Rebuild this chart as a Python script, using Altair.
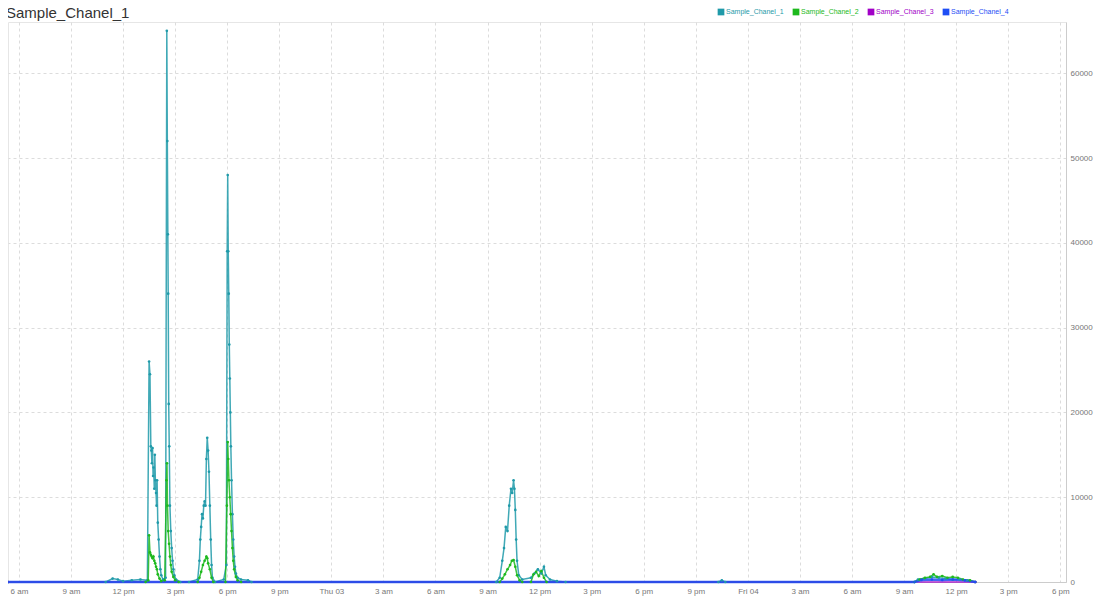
import altair as alt
import pandas as pd

# hours from Wed 00:00
ch1_h = [5.35, 11.0, 11.4, 11.7, 12.0, 12.5, 13.0, 13.4,
         13.5, 13.55, 13.6, 13.63, 13.66, 13.7, 13.73, 13.76, 13.8, 13.83, 13.86, 13.9, 13.93, 13.96,
         14.0, 14.05, 14.1, 14.15, 14.2, 14.3, 14.45,
         14.52, 14.55, 14.58, 14.6, 14.63, 14.66, 14.7, 14.75, 14.8, 14.85, 14.9, 14.95, 15.05, 15.3, 15.8,
         16.3, 16.4, 16.45, 16.5, 16.55, 16.6, 16.65, 16.7, 16.75, 16.8, 16.85, 16.9, 16.95, 17.0, 17.05,
         17.1, 17.15, 17.3, 17.8,
         17.95, 18.0, 18.03, 18.06, 18.09, 18.12, 18.15, 18.18, 18.21, 18.25, 18.3, 18.35, 18.4, 18.45,
         18.5, 18.6, 18.8, 19.2, 19.4, 33.5, 33.7, 33.85, 33.95, 34.05, 34.15, 34.25, 34.35, 34.42, 34.5,
         34.55, 34.6, 34.65, 34.7, 34.8, 35.0, 35.5, 35.7, 35.9, 36.1, 36.25, 36.35, 36.6, 37.0, 37.5,
         46.3, 46.5, 46.7, 57.6, 57.8, 58.2, 58.6, 59.0, 59.4, 59.8, 60.2, 60.6, 61.1]
ch1_v = [0, 0, 400, 300, 100, 200, 300, 200,
         26000, 24500, 16000, 15500, 14000, 15800, 12500, 13500, 11000, 15000, 12000, 10500, 9000, 12000,
         7000, 5000, 3000, 1500, 800, 300, 500,
         65000, 52000, 41000, 34000, 21000, 16000, 9000, 6000, 4000, 2500, 1500, 800, 300, 0, 0,
         300, 2500, 5000, 6500, 8000, 7500, 9000, 9500, 9000, 14500, 17000, 15500, 13000, 9000, 5000,
         2000, 500, 0, 300,
         2000, 39000, 48000, 39000, 34000, 28000, 24000, 20000, 16000, 12000, 8000, 5000, 3000, 1800,
         1000, 500, 300, 200, 0, 0, 500, 2500, 4000, 6500, 6000, 9000, 11000, 10500, 12000,
         11000, 8500, 5000, 2500, 800, 300, 500, 1000, 1500, 1000, 1800, 800, 300, 100, 0,
         0, 200, 0, 0, 300, 400, 600, 500, 400, 300, 300, 200, 0]

ch2_h = [5.35, 13.3, 13.45, 13.5, 13.55, 13.6, 13.65, 13.7, 13.75, 13.8, 13.85, 13.9, 13.95, 14.0,
         14.1, 14.2, 14.4, 14.5, 14.53, 14.56, 14.6, 14.65, 14.7, 14.75, 14.8, 14.9, 15.0, 15.2,
         16.3, 16.4, 16.5, 16.6, 16.7, 16.8, 16.85, 16.9, 17.0, 17.1, 17.2,
         17.9, 17.98, 18.03, 18.06, 18.1, 18.15, 18.2, 18.25, 18.3, 18.35, 18.4, 18.5, 18.6, 18.8,
         33.7, 33.85, 34.0, 34.15, 34.3, 34.4, 34.5, 34.6, 34.7, 34.85, 35.0,
         35.5, 35.65, 35.8, 35.95, 36.1, 36.25, 36.4,
         57.6, 57.9, 58.2, 58.5, 58.7, 58.9, 59.2, 59.5, 59.8, 60.1, 60.4, 60.8, 61.1]
ch2_v = [0, 0, 200, 5500, 3500, 3200, 3000, 2800, 3000, 2500, 2200, 1800, 1500, 900,
         400, 100, 200, 12000, 14000, 9000, 6000, 4500, 3000, 2000, 1200, 600, 200, 0,
         0, 500, 1200, 2000, 2500, 3000, 2800, 2200, 1500, 500, 0,
         0, 9000, 16500, 14500, 12000, 10000, 8000, 6000, 4000, 2500, 1500, 600, 200, 0,
         0, 400, 900, 1500, 2000, 2500, 2600, 1800, 800, 200, 0,
         0, 900, 1200, 700, 1300, 500, 0,
         0, 300, 500, 600, 900, 600, 700, 500, 600, 500, 300, 200, 0]

ch3_h = [5.35, 61.1]
ch3_v = [0, 0]

ch4_h = [5.35, 57.6, 58.0, 58.6, 59.2, 59.8, 60.5, 61.1]
ch4_v = [0, 0, 250, 300, 250, 300, 200, 0]

# x tick positions (hours from Wed 00:00), every 3 h
tick_hours = [6, 9, 12, 15, 18, 21, 24, 27, 30, 33, 36, 39, 42, 45, 48, 51, 54, 57, 60, 63, 66]

series_names = ["Sample_Chanel_1", "Sample_Chanel_2", "Sample_Chanel_3", "Sample_Chanel_4"]
series_colors = ["#1f9aa9", "#1db91d", "#a100c7", "#1e4ef5"]
chart_title = "Sample_Chanel_1"

base = pd.Timestamp("2021-06-02 00:00:00")


def to_ms(h):
    # epoch milliseconds of the wall-clock time (read back as UTC in the axis labels)
    t = base + pd.to_timedelta(h, unit="h")
    return int((t - pd.Timestamp("1970-01-01")) / pd.Timedelta(milliseconds=1))


frames = []
for name, hs, vs in zip(series_names, [ch1_h, ch2_h, ch3_h, ch4_h], [ch1_v, ch2_v, ch3_v, ch4_v]):
    frames.append(pd.DataFrame({
        "time": [to_ms(h) for h in hs],
        "value": vs,
        "series": name,
    }))
df = pd.concat(frames, ignore_index=True)

legend_df = pd.DataFrame({"series": series_names, "idx": list(range(len(series_names)))})
title_df = pd.DataFrame({"title": [chart_title]})

x_domain = [to_ms(5.37), to_ms(66.33)]
x_ticks = [to_ms(h) for h in tick_hours]

font = "Liberation Sans"
color_scale = alt.Scale(domain=series_names, range=series_colors)

label_expr = (
    "utchours(datum.value) == 0 ? utcFormat(datum.value, '%a %d') : "
    "((utchours(datum.value) % 12 == 0 ? 12 : utchours(datum.value) % 12) + "
    "(utchours(datum.value) < 12 ? ' am' : ' pm'))"
)

lines = alt.Chart(df).mark_line(
    point=alt.OverlayMarkDef(filled=True, size=7),
    opacity=0.85,
).encode(
    x=alt.X("time:Q",
            scale=alt.Scale(domain=x_domain, nice=False, zero=False),
            axis=alt.Axis(
                title=None,
                values=x_ticks,
                labelExpr=label_expr,
                grid=True, gridDash=[3, 3], gridColor="#dcdcdc",
                domainColor="#cccccc", ticks=False,
                labelFontSize=8, labelColor="#777777", labelFont=font, labelPadding=5,
                labelOverlap=False, labelFlush=False,
            )),
    y=alt.Y("value:Q",
            scale=alt.Scale(domain=[0, 66040], nice=False),
            axis=alt.Axis(
                orient="right", title=None,
                values=[0, 10000, 20000, 30000, 40000, 50000, 60000],
                grid=True, gridDash=[3, 3], gridColor="#dcdcdc",
                domainColor="#cccccc", ticks=False, format="d",
                labelFontSize=8, labelColor="#777777", labelFont=font, labelPadding=4,
            )),
    color=alt.Color("series:N", scale=color_scale, legend=None),
    strokeWidth=alt.condition(alt.datum.series == "Sample_Chanel_4", alt.value(2.5), alt.value(1.5)),
)

legend_x = alt.X("idx:Q", scale=alt.Scale(domain=[0, 3], range=[713, 938]), axis=None)

legend_sym = alt.Chart(legend_df).mark_square(size=45, opacity=1).encode(
    x=legend_x,
    y=alt.value(-10),
    color=alt.Color("series:N", scale=color_scale, legend=None),
)
legend_txt = alt.Chart(legend_df).mark_text(
    align="left", baseline="middle", dx=5, fontSize=7, font=font
).encode(
    x=legend_x,
    y=alt.value(-10),
    text="series:N",
    color=alt.Color("series:N", scale=color_scale, legend=None),
)

title_txt = alt.Chart(title_df).mark_text(
    align="left", baseline="alphabetic", fontSize=15, font=font, color="#333333"
).encode(
    x=alt.value(-2),
    y=alt.value(-4),
    text="title:N",
)

chart = alt.layer(lines, legend_sym, legend_txt, title_txt).resolve_scale(
    x="independent"
).properties(
    width=1058,
    height=560,
    autosize=alt.AutoSizeParams(type="none"),
    padding={"left": 0, "top": 14, "right": 40, "bottom": 20},
).configure_view(
    stroke="#e6e6e6"
)

chart.save("out.html", embed_options={"renderer": "svg", "actions": False})
